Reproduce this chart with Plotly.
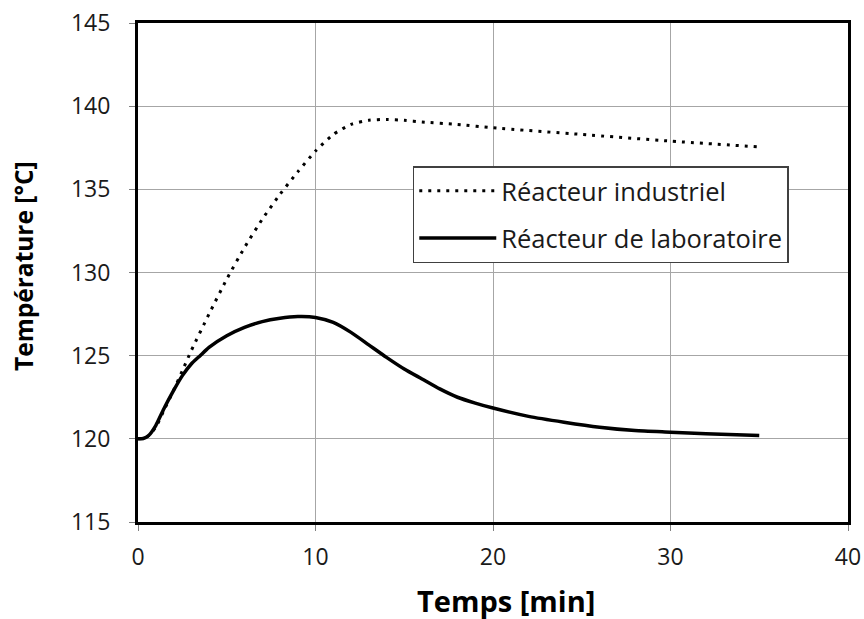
import plotly.graph_objects as go

# Data
t_ind = [0, 0.5, 1, 1.5, 2, 2.5, 3, 4, 5, 6, 7, 8, 9, 10, 11, 12, 13, 14, 15, 16, 18, 20, 25, 30, 35]
T_ind = [120, 120.1, 120.7, 121.8, 122.9, 124.1, 125.3, 127.5, 129.6, 131.5, 133.2, 134.7, 136.05, 137.3,
         138.3, 138.9, 139.15, 139.2, 139.15, 139.05, 138.9, 138.7, 138.3, 137.9, 137.55]

t_lab = [0, 0.3, 0.6, 1.0, 1.5, 2, 2.5, 3, 3.5, 4, 5, 6, 7, 8, 9, 10, 11, 12, 13, 14, 15, 16, 17, 18, 19,
         20, 22, 24, 26, 28, 30, 32, 35]
T_lab = [120, 120.02, 120.2, 120.8, 121.9, 122.9, 123.8, 124.5, 125.0, 125.5, 126.2, 126.7, 127.05, 127.25,
         127.35, 127.3, 127.0, 126.4, 125.65, 124.9, 124.2, 123.6, 123.0, 122.5, 122.15, 121.85, 121.35,
         121.0, 120.7, 120.5, 120.4, 120.3, 120.2]

x_ticks = [0, 10, 20, 30, 40]
y_ticks = [115, 120, 125, 130, 135, 140, 145]
x_title = "Temps [min]"
y_title = "Température [°C]"

FONT = "Open Sans"
TXT = "#1a1a1a"

fig = go.Figure()
fig.add_trace(go.Scatter(x=t_ind, y=T_ind, mode="lines", name="Réacteur industriel", legendgroup="a",
                         line=dict(color="black", width=3, dash="3px,6px", shape="spline", smoothing=0.6)))
fig.add_trace(go.Scatter(x=t_lab, y=T_lab, mode="lines", name="Réacteur de laboratoire", legendgroup="b",
                         line=dict(color="black", width=3.5, shape="spline", smoothing=0.6)))

fig.update_layout(
    width=864, height=619,
    margin=dict(l=138, r=16, t=23, b=97, autoexpand=False),
    paper_bgcolor="white", plot_bgcolor="white",
    font=dict(family=FONT, size=23, color=TXT),
    showlegend=True,
    legend=dict(x=0.387, y=0.713, xanchor="left", yanchor="top",
                bgcolor="white", bordercolor="#404040", borderwidth=1.5,
                font=dict(family=FONT, size=25.5, color=TXT),
                itemwidth=77, tracegroupgap=11),
    xaxis=dict(range=[0, 40], tickvals=x_ticks, showgrid=True, gridcolor="#a6a6a6", gridwidth=1,
               zeroline=False, showline=True, linecolor="black", linewidth=3, mirror=True,
               ticks="outside", ticklen=6, tickcolor="#808080", automargin=False,
               ticklabelstandoff=6, ticklabeloverflow="allow",
               tickfont=dict(size=23, color=TXT)),
    yaxis=dict(range=[115, 145], tickvals=y_ticks, showgrid=True, gridcolor="#a6a6a6", gridwidth=1,
               zeroline=False, showline=True, linecolor="black", linewidth=3, mirror=True,
               ticks="outside", ticklen=6, tickcolor="#808080", automargin=False,
               ticklabelstandoff=14, ticklabeloverflow="allow",
               tickfont=dict(size=23, color=TXT)),
    annotations=[
        dict(text="<b>" + x_title + "</b>", xref="paper", yref="paper", x=0.518, y=-0.157,
             xanchor="center", yanchor="middle", showarrow=False,
             font=dict(family=FONT, size=29, color="black")),
        dict(text="<b>" + y_title + "</b>", xref="paper", yref="paper", x=-0.162, y=0.513,
             xanchor="center", yanchor="middle", showarrow=False, textangle=-90,
             font=dict(family=FONT, size=24.5, color="black")),
    ],
)

# remove the browser's default 8px body margin so the figure fills the window exactly
fig.write_html("out.html", config={"displayModeBar": False},
               post_script="document.body.style.margin='0';document.body.style.overflow='hidden';")
